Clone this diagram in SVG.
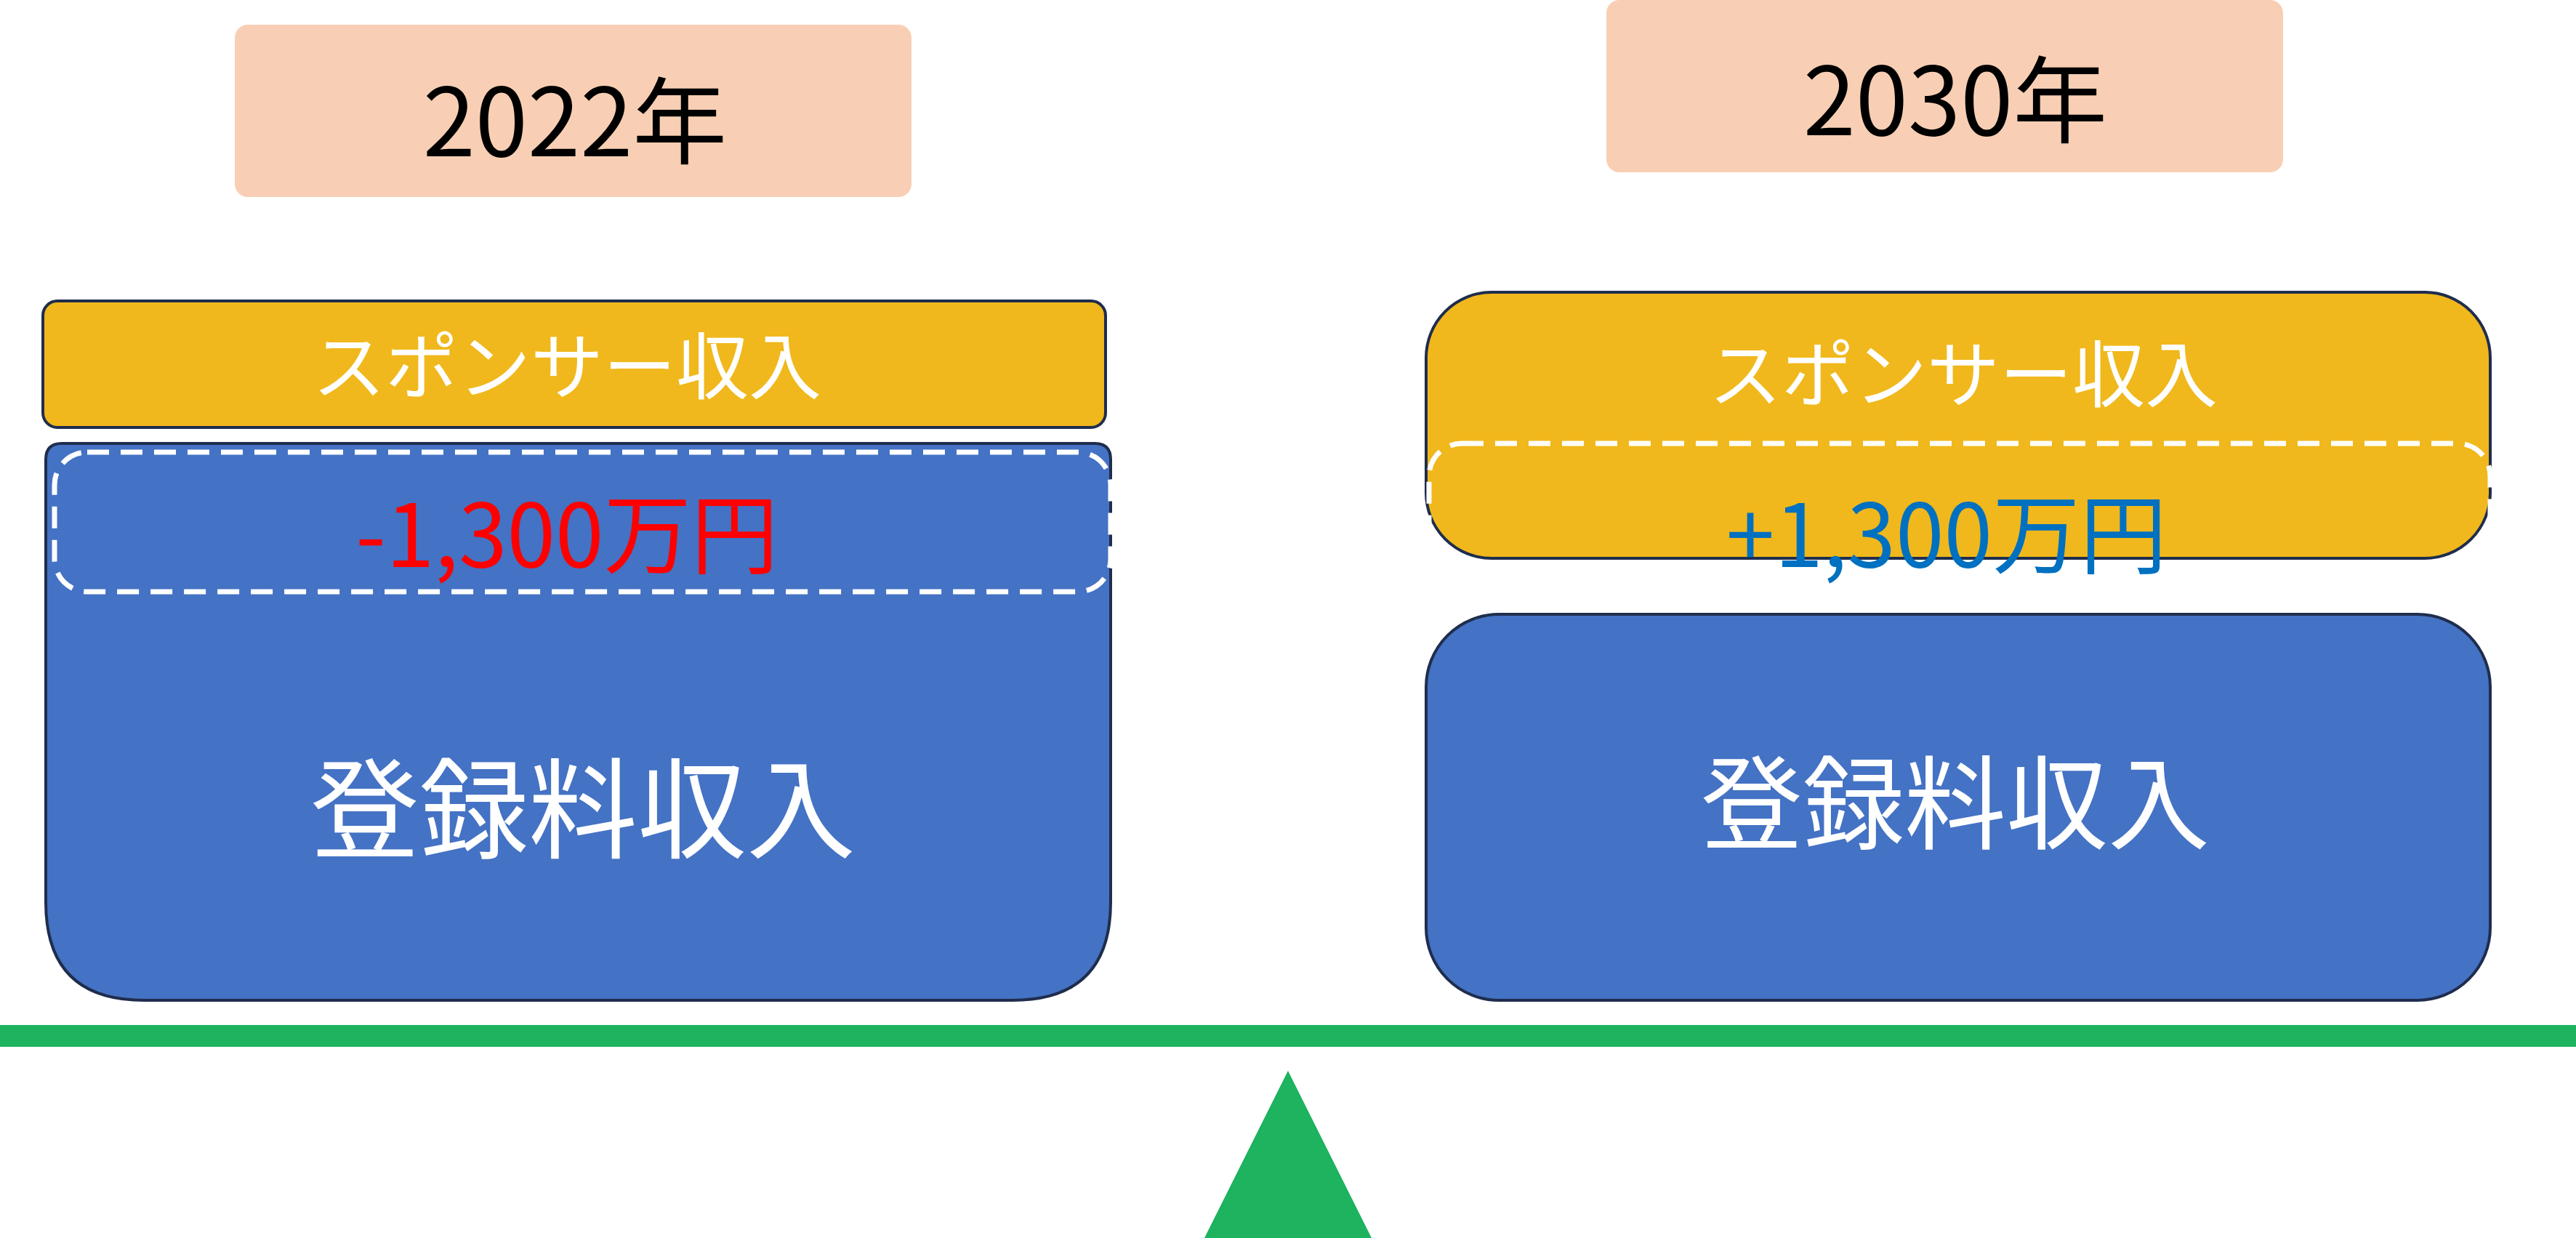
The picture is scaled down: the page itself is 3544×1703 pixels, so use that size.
<svg xmlns="http://www.w3.org/2000/svg" width="3544" height="1703" viewBox="0 0 3544 1703">
<style>
.t{font-family:"Noto Sans CJK JP","Noto Sans",sans-serif;text-anchor:middle;dominant-baseline:central}
.yr{fill:#F8CFB4}
.sp{fill:#F0B81C;stroke:#1F2D4D;stroke-width:4}
.bl{fill:#4472C4;stroke:#1F2D4D;stroke-width:4}
.ds{fill:none;stroke:#fff;stroke-width:7;stroke-dasharray:30 16}
</style>
<rect width="3544" height="1703" fill="#fff"/>
<g id="year2022"><rect class="yr" x="323" y="34" width="931" height="237" rx="18"/><text class="t" x="791" y="158" font-size="130" fill="#000">2022年</text></g>
<g id="year2030"><rect class="yr" x="2210" y="0" width="931" height="237" rx="18"/><text class="t" x="2690" y="129" font-size="130" fill="#000">2030年</text></g>
<g id="left-reg"><path class="bl" d="M85,610 H1506 Q1528,610 1528,632 V1241 Q1528,1376 1393,1376 H198 Q63,1376 63,1241 V632 Q63,610 85,610 Z"/><text class="t" x="802" y="1103" font-size="150" fill="#fff">登録料収入</text></g>
<g id="left-sponsor"><rect class="sp" x="59" y="414" width="1462" height="174" rx="20"/><text class="t" x="780" y="497" font-size="100" fill="#fff">スポンサー収入</text></g>
<g id="left-diff"><rect class="ds" x="75" y="622" width="1453" height="192" rx="45"/><text class="t" x="780" y="728" font-size="120" fill="#FF0000">-1,300万円</text></g>
<g id="right-sponsor"><rect class="sp" x="1962" y="402" width="1464" height="366" rx="90"/><text class="t" x="2701" y="508" font-size="100" fill="#fff">スポンサー収入</text></g>
<g id="right-diff"><rect class="ds" x="1966" y="610" width="1460" height="197" rx="45"/><text class="t" x="2678" y="728" font-size="120" fill="#0070C0">+1,300万円</text></g>
<g id="right-reg"><rect class="bl" x="1962" y="845" width="1464" height="531" rx="100"/><text class="t" x="2690" y="1096" font-size="140" fill="#fff">登録料収入</text></g>
<g id="scale"><rect x="0" y="1410" width="3544" height="30" fill="#1DB35F"/><polygon points="1772,1473 1887,1703 1657,1703" fill="#1DB35F"/></g>
<g id="connectors"/>
</svg>
